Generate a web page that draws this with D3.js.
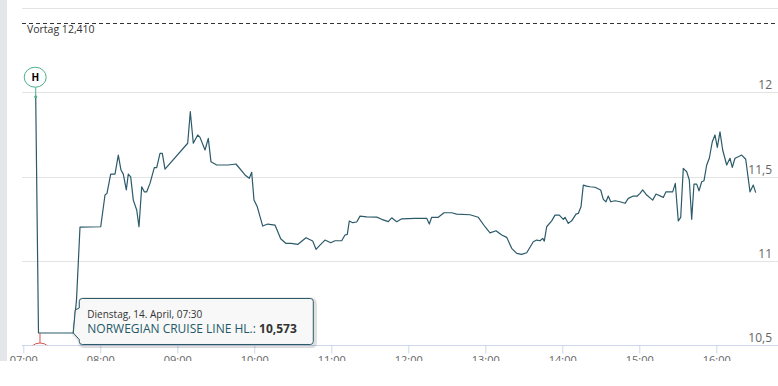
<!DOCTYPE html>
<html>
<head>
<meta charset="utf-8">
<script src="https://cdn.jsdelivr.net/npm/d3@7"></script>
<style>
    body { margin: 0; background: #fff; }
    svg { display: block; font-family: "Open Sans", sans-serif; }
</style>
</head>
<body>
<div id="chart"></div>
<script>

var sDay = "2020-04-14";

// intraday prices, time of trade and price
var aTimes = [
    "07:09:40", "07:11:50", "07:38:58", "07:41:27", "07:44:11", "08:00:19", "08:03:40", "08:05:13",
    "08:08:06", "08:11:27", "08:14:02", "08:16:08", "08:17:55", "08:20:16", "08:21:49", "08:23:41",
    "08:25:43", "08:28:22", "08:30:09", "08:32:16", "08:34:17", "08:36:10", "08:38:44", "08:42:05",
    "08:43:57", "08:46:31", "08:48:19", "08:50:25", "09:08:06", "09:10:08", "09:12:28", "09:15:54",
    "09:17:41", "09:21:35", "09:24:09", "09:26:15", "09:30:42", "09:39:44", "09:45:44", "09:52:45",
    "09:56:06", "09:57:58", "09:59:46", "10:02:20", "10:06:33", "10:10:26", "10:16:08", "10:20:34",
    "10:24:42", "10:28:36", "10:33:49", "10:40:17", "10:45:30", "10:48:05", "10:51:11", "10:55:05",
    "10:59:32", "11:02:53", "11:08:06", "11:10:40", "11:12:28", "11:14:02", "11:16:41", "11:19:47",
    "11:22:22", "11:27:35", "11:35:22", "11:39:16", "11:44:25", "11:47:04", "11:50:58", "11:54:52",
    "12:05:13", "12:14:20", "12:16:22", "12:18:14", "12:23:23", "12:27:49", "12:33:49", "12:37:43",
    "12:48:05", "12:54:33", "12:59:46", "13:03:40", "13:08:20", "13:12:47", "13:16:41", "13:20:34",
    "13:24:28", "13:28:22", "13:32:16", "13:37:24", "13:40:03", "13:42:37", "13:44:44", "13:45:58",
    "13:47:50", "13:51:44", "13:54:19", "13:57:40", "14:00:47", "14:02:06", "14:04:40", "14:07:19",
    "14:10:40", "14:12:28", "14:14:34", "14:16:22", "14:19:01", "14:21:35", "14:25:29", "14:29:55",
    "14:31:57", "14:34:03", "14:35:50", "14:37:43", "14:41:04", "14:44:58", "14:48:52", "14:51:26",
    "14:55:19", "14:58:26", "15:00:33", "15:02:39", "15:05:46", "15:10:26", "15:13:01", "15:18:42",
    "15:20:48", "15:26:01", "15:28:03", "15:30:23", "15:32:16", "15:34:17", "15:36:56", "15:38:58",
    "15:40:50", "15:42:37", "15:44:44", "15:46:31", "15:48:37", "15:50:25", "15:52:31", "15:54:33",
    "15:56:53", "15:58:59", "16:00:47", "16:02:53", "16:04:59", "16:08:06", "16:10:40", "16:12:28",
    "16:14:34", "16:17:08", "16:19:47", "16:22:55", "16:26:16", "16:28:50", "16:30:42"
];

var aValues = [
    11.974, 10.573, 10.573, 10.768, 11.201, 11.203, 11.391, 11.401,
    11.515, 11.515, 11.628, 11.539, 11.515, 11.421, 11.515, 11.499,
    11.361, 11.302, 11.203, 11.440, 11.410, 11.410, 11.460, 11.553,
    11.553, 11.638, 11.638, 11.545, 11.698, 11.885, 11.698, 11.747,
    11.733, 11.658, 11.727, 11.588, 11.569, 11.569, 11.575, 11.510,
    11.490, 11.526, 11.361, 11.321, 11.207, 11.219, 11.213, 11.132,
    11.104, 11.104, 11.098, 11.138, 11.118, 11.069, 11.094, 11.124,
    11.108, 11.120, 11.120, 11.154, 11.158, 11.237, 11.227, 11.231,
    11.266, 11.262, 11.260, 11.247, 11.233, 11.256, 11.233, 11.250,
    11.253, 11.253, 11.219, 11.259, 11.259, 11.286, 11.286, 11.278,
    11.274, 11.259, 11.203, 11.167, 11.179, 11.154, 11.140, 11.075,
    11.045, 11.039, 11.049, 11.114, 11.124, 11.120, 11.134, 11.118,
    11.203, 11.238, 11.272, 11.272, 11.247, 11.259, 11.223, 11.238,
    11.278, 11.282, 11.321, 11.450, 11.444, 11.440, 11.437, 11.421,
    11.365, 11.351, 11.385, 11.351, 11.357, 11.351, 11.342, 11.371,
    11.385, 11.385, 11.401, 11.421, 11.391, 11.361, 11.397, 11.377,
    11.410, 11.410, 11.460, 11.238, 11.259, 11.549, 11.529, 11.480,
    11.247, 11.456, 11.456, 11.416, 11.470, 11.476, 11.569, 11.609,
    11.707, 11.747, 11.674, 11.766, 11.658, 11.569, 11.609, 11.555,
    11.609, 11.618, 11.628, 11.603, 11.410, 11.450, 11.405
];

var aXTicks = ["07:00", "08:00", "09:00", "10:00", "11:00", "12:00", "13:00", "14:00", "15:00", "16:00"];
var aYTicks = [10.5, 11, 11.5, 12];
var aGrid = [11, 11.5, 12, 12.5];
var previousClose = 12.410;
var sName = "NORWEGIAN CRUISE LINE HL.";
var sHoverLabel = "Dienstag, 14. April, 07:30";
var hoverIndex = 2;

var w = 778;
var h = 361;
var plotLeft = 22;
var plotBottom = 345.3;
var lineColor = "#2b5a6a";

var parseTime = d3.timeParse("%Y-%m-%d %H:%M:%S");
function toDate(t){
    if(t.length == 5){ t = t + ":00"; }
    return parseTime(sDay + " " + t);
}

var aData = aTimes.map(function(t, i){
    return { date: toDate(aTimes[i]), value: aValues[i] };
});

var x = d3.scaleTime()
    .domain([toDate("07:00"), toDate("16:00")])
    .range([23.3, 716.3]);

var y = d3.scaleLinear()
    .domain([10.5, 12.5])
    .range([plotBottom, 8]);

// german number format
var fmt = function(n, digits){
    return d3.format("." + digits + "f")(n).replace(".", ",");
};
var fmtTick = function(n){
    return String(n).replace(".", ",");
};

var svg = d3.select("#chart")
    .append("svg")
    .attr("width", w)
    .attr("height", h);

// grey strip on the left
svg.append("rect")
    .attr("x", 0)
    .attr("y", 0)
    .attr("width", 7)
    .attr("height", h)
    .attr("fill", "#e5e6ea");

svg.append("defs")
    .append("clipPath")
    .attr("id", "plotClip")
    .append("rect")
    .attr("x", plotLeft)
    .attr("y", 0)
    .attr("width", w - plotLeft)
    .attr("height", plotBottom);

// grid lines
svg.selectAll("line.grid")
    .data(aGrid)
    .enter()
    .append("line")
    .attr("class", "grid")
    .attr("x1", plotLeft)
    .attr("x2", w)
    .attr("y1", function(d){ return Math.round(y(d)) + 0.5; })
    .attr("y2", function(d){ return Math.round(y(d)) + 0.5; })
    .attr("stroke", "#e3e3e3")
    .attr("stroke-width", 1);

// y labels on the right, sitting above their grid line
svg.selectAll("text.ylabel")
    .data(aYTicks)
    .enter()
    .append("text")
    .attr("class", "ylabel")
    .text(function(d){ return fmtTick(d); })
    .attr("x", 772)
    .attr("y", function(d){ return y(d) - 3; })
    .attr("text-anchor", "end")
    .attr("font-size", "12px")
    .attr("fill", "#666");

// x axis, labels are cut by the bottom of the box like in the page
var xAxis = d3.axisBottom(x)
    .tickValues(aXTicks.map(toDate))
    .tickSize(8)
    .tickPadding(3)
    .tickFormat(d3.timeFormat("%H:%M"));

var gx = svg.append("g")
    .attr("transform", "translate(0," + (Math.round(plotBottom) + 0.5) + ")")
    .call(xAxis);

gx.select(".domain").remove();
gx.selectAll(".tick line").attr("stroke", "#ccd6eb");
gx.selectAll(".tick text")
    .attr("font-family", "Open Sans, sans-serif")
    .attr("font-size", "11px")
    .attr("fill", "#666");

gx.append("line")
    .attr("x1", plotLeft)
    .attr("x2", w)
    .attr("y1", 0)
    .attr("y2", 0)
    .attr("stroke", "#ccd6eb");

// previous close
svg.append("line")
    .attr("x1", plotLeft)
    .attr("x2", w)
    .attr("y1", Math.round(y(previousClose)) + 0.5)
    .attr("y2", Math.round(y(previousClose)) + 0.5)
    .attr("stroke", "#333")
    .attr("stroke-dasharray", "4,3");

svg.append("text")
    .text("Vortag " + fmt(previousClose, 3))
    .attr("x", 27)
    .attr("y", y(previousClose) + 10)
    .attr("font-size", "10.5px")
    .attr("fill", "#333");

// price line
var line = d3.line()
    .x(function(d){ return x(d.date); })
    .y(function(d){ return y(d.value); });

svg.append("path")
    .datum(aData)
    .attr("d", line)
    .attr("fill", "none")
    .attr("stroke", lineColor)
    .attr("stroke-width", 1.2)
    .attr("stroke-linejoin", "round");

// high / low markers
var hi = d3.maxIndex(aData, function(d){ return d.value; });
var lo = d3.minIndex(aData, function(d){ return d.value; });

var hx = x(aData[hi].date);
var hy = y(aData[hi].value);
svg.append("line")
    .attr("x1", hx).attr("x2", hx)
    .attr("y1", hy).attr("y2", hy - 10)
    .attr("stroke", "#4fb08c");
svg.append("circle")
    .attr("cx", hx).attr("cy", hy)
    .attr("r", 1.5)
    .attr("fill", "#4fb08c");
svg.append("ellipse")
    .attr("cx", hx - 0.5).attr("cy", hy - 19.5)
    .attr("rx", 11).attr("ry", 10)
    .attr("fill", "#fff")
    .attr("stroke", "#4fb08c");
svg.append("text")
    .text("H")
    .attr("x", hx - 0.5)
    .attr("y", hy - 16)
    .attr("text-anchor", "middle")
    .attr("font-size", "10px")
    .attr("font-weight", "bold")
    .attr("fill", "#000");

var lx = x(aData[lo].date) + 1.5;
var ly = y(aData[lo].value);
var gLow = svg.append("g").attr("clip-path", "url(#plotClip)");
gLow.append("line")
    .attr("x1", lx).attr("x2", lx)
    .attr("y1", ly).attr("y2", ly + 10)
    .attr("stroke", "#d9534f");
gLow.append("ellipse")
    .attr("cx", lx).attr("cy", ly + 20)
    .attr("rx", 11).attr("ry", 10)
    .attr("fill", "#fff")
    .attr("stroke", "#d9534f");

// tooltip for the hovered point
var ax = x(aData[hoverIndex].date);
var ay = y(aData[hoverIndex].value);
var bx = ax + 6;
var by = ay - 34.5;
var bw = 234;
var bh = 46;
var r = 3;

function boxPath(ox, oy){
    var p = d3.path();
    p.moveTo(bx + r + ox, by + oy);
    p.lineTo(bx + bw - r + ox, by + oy);
    p.arcTo(bx + bw + ox, by + oy, bx + bw + ox, by + r + oy, r);
    p.lineTo(bx + bw + ox, by + bh - r + oy);
    p.arcTo(bx + bw + ox, by + bh + oy, bx + bw - r + ox, by + bh + oy, r);
    p.lineTo(bx + r + ox, by + bh + oy);
    p.arcTo(bx + ox, by + bh + oy, bx + ox, by + bh - r + oy, r);
    p.lineTo(bx + ox, ay + 6.5 + oy);
    p.lineTo(ax + ox, ay + oy);
    p.lineTo(ax + 2 + ox, ay - 23 + oy);
    p.lineTo(bx + ox, ay - 25 + oy);
    p.lineTo(bx + ox, by + r + oy);
    p.arcTo(bx + ox, by + oy, bx + r + ox, by + oy, r);
    p.closePath();
    return p.toString();
}

[3, 2, 1].forEach(function(o){
    svg.append("path")
        .attr("d", boxPath(o, o))
        .attr("fill", "none")
        .attr("stroke", "rgba(0,0,0," + (0.05 * (4 - o) / 2) + ")")
        .attr("stroke-width", 2 * (4 - o) - 1);
});

svg.append("path")
    .attr("d", boxPath(0, 0))
    .attr("fill", "rgba(248,248,248,0.95)")
    .attr("stroke", lineColor)
    .attr("stroke-width", 1);

svg.append("text")
    .text(sHoverLabel)
    .attr("x", bx + 8)
    .attr("y", by + 19.5)
    .attr("font-size", "10px")
    .attr("fill", "#333");

var t2 = svg.append("text")
    .attr("x", bx + 8)
    .attr("y", by + 34.5)
    .attr("font-size", "12px");
t2.append("tspan")
    .text(sName + ": ")
    .attr("fill", "#245868");
t2.append("tspan")
    .text(fmt(aData[hoverIndex].value, 3))
    .attr("font-weight", "bold")
    .attr("fill", "#333");

</script>
</body>
</html>
